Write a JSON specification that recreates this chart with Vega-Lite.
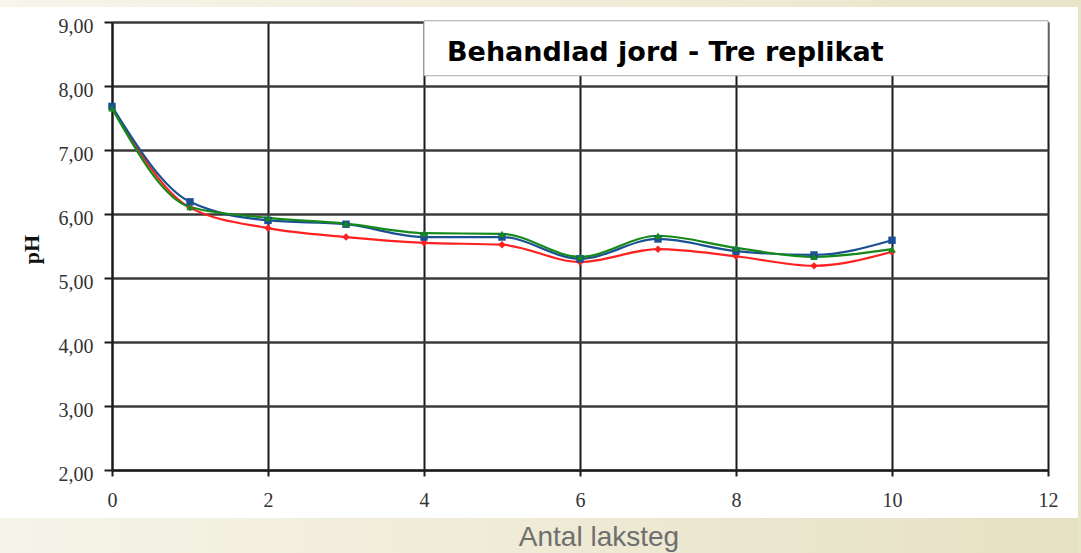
{
  "$schema": "https://vega.github.io/schema/vega-lite/v6.json",
  "width": 936,
  "height": 448,
  "autosize": {"type": "none"},
  "padding": {"left": 112, "top": 22, "right": 33, "bottom": 83},
  "background": "white",
  "config": {"view": {"stroke": null}},
  "title": {
    "text": "Antal laksteg",
    "orient": "bottom",
    "anchor": "middle",
    "frame": "group",
    "baseline": "alphabetic",
    "offset": -7,
    "dx": 19,
    "font": "Liberation Sans",
    "fontSize": 28,
    "fontWeight": "normal",
    "color": "#6f6f6f",
    "zindex": 1
  },
  "data": {
    "values": [
      {"step": 0, "series": "Replikat 1", "pH": 7.68},
      {"step": 1, "series": "Replikat 1", "pH": 6.10},
      {"step": 2, "series": "Replikat 1", "pH": 5.78},
      {"step": 3, "series": "Replikat 1", "pH": 5.64},
      {"step": 4, "series": "Replikat 1", "pH": 5.55},
      {"step": 5, "series": "Replikat 1", "pH": 5.52},
      {"step": 6, "series": "Replikat 1", "pH": 5.25},
      {"step": 7, "series": "Replikat 1", "pH": 5.45},
      {"step": 8, "series": "Replikat 1", "pH": 5.34},
      {"step": 9, "series": "Replikat 1", "pH": 5.19},
      {"step": 10, "series": "Replikat 1", "pH": 5.41},
      {"step": 0, "series": "Replikat 2", "pH": 7.68},
      {"step": 1, "series": "Replikat 2", "pH": 6.19},
      {"step": 2, "series": "Replikat 2", "pH": 5.90},
      {"step": 3, "series": "Replikat 2", "pH": 5.84},
      {"step": 4, "series": "Replikat 2", "pH": 5.64},
      {"step": 5, "series": "Replikat 2", "pH": 5.64},
      {"step": 6, "series": "Replikat 2", "pH": 5.30},
      {"step": 7, "series": "Replikat 2", "pH": 5.61},
      {"step": 8, "series": "Replikat 2", "pH": 5.42},
      {"step": 9, "series": "Replikat 2", "pH": 5.36},
      {"step": 10, "series": "Replikat 2", "pH": 5.59},
      {"step": 0, "series": "Replikat 3", "pH": 7.65},
      {"step": 1, "series": "Replikat 3", "pH": 6.11},
      {"step": 2, "series": "Replikat 3", "pH": 5.94},
      {"step": 3, "series": "Replikat 3", "pH": 5.85},
      {"step": 4, "series": "Replikat 3", "pH": 5.70},
      {"step": 5, "series": "Replikat 3", "pH": 5.69},
      {"step": 6, "series": "Replikat 3", "pH": 5.33},
      {"step": 7, "series": "Replikat 3", "pH": 5.66},
      {"step": 8, "series": "Replikat 3", "pH": 5.47},
      {"step": 9, "series": "Replikat 3", "pH": 5.33},
      {"step": 10, "series": "Replikat 3", "pH": 5.45}
    ]
  },
  "layer": [
    {
      "mark": {"type": "line", "interpolate": "monotone", "strokeWidth": 2.2},
      "encoding": {
        "x": {
          "field": "step", "type": "quantitative",
          "scale": {"domain": [0, 12], "nice": false, "zero": false},
          "axis": {
            "values": [0, 2, 4, 6, 8, 10, 12],
            "format": "d",
            "title": null,
            "grid": true, "gridColor": "#1a1a1a", "gridWidth": 2,
            "domainColor": "#1a1a1a", "domainWidth": 2,
            "tickColor": "#1a1a1a", "tickWidth": 2, "tickSize": 6,
            "labelFont": "Liberation Serif", "labelFontSize": 20, "labelColor": "#333333",
            "labelPadding": 14, "labelFlush": false, "labelOverlap": false
          }
        },
        "y": {
          "field": "pH", "type": "quantitative",
          "scale": {"domain": [2, 9], "nice": false, "zero": false},
          "axis": {
            "values": [2, 3, 4, 5, 6, 7, 8, 9],
            "labelExpr": "replace(format(datum.value, '.2f'), '.', ',')",
            "title": "pH",
            "titleFont": "Liberation Serif", "titleFontSize": 22, "titleFontWeight": "bold", "titleColor": "#111111",
            "titleX": -74, "titleY": 227, "titleAngle": 270, "titleAlign": "center", "titleBaseline": "alphabetic",
            "grid": true, "gridColor": "#3a3a3a", "gridWidth": 2.5,
            "domainColor": "#1a1a1a", "domainWidth": 2,
            "tickColor": "#1a1a1a", "tickWidth": 2, "tickSize": 8,
            "labelFont": "Liberation Serif", "labelFontSize": 20, "labelColor": "#333333",
            "labelPadding": 11, "labelOffset": 4, "labelFlush": false, "labelOverlap": false
          }
        },
        "color": {
          "field": "series", "type": "nominal",
          "scale": {"domain": ["Replikat 1", "Replikat 2", "Replikat 3"], "range": ["#ff2020", "#1b4f93", "#15891a"]},
          "legend": null
        }
      }
    },
    {
      "mark": {"type": "point", "filled": true, "size": 55, "opacity": 1},
      "encoding": {
        "x": {"field": "step", "type": "quantitative", "scale": {"domain": [0, 12], "nice": false, "zero": false}},
        "y": {"field": "pH", "type": "quantitative", "scale": {"domain": [2, 9], "nice": false, "zero": false}},
        "color": {
          "field": "series", "type": "nominal",
          "scale": {"domain": ["Replikat 1", "Replikat 2", "Replikat 3"], "range": ["#ff2020", "#1b4f93", "#15891a"]},
          "legend": null
        },
        "shape": {
          "field": "series", "type": "nominal",
          "scale": {"domain": ["Replikat 1", "Replikat 2", "Replikat 3"], "range": ["diamond", "square", "triangle-up"]},
          "legend": null
        }
      }
    },
    {
      "data": {"values": [{}]},
      "mark": {"type": "rect", "fill": {"gradient": "linear", "x1": 0, "y1": 0, "x2": 1, "y2": 0, "stops": [{"offset": 0, "color": "#f6f4e9"}, {"offset": 1, "color": "#e6e1c3"}]}},
      "encoding": {
        "x": {"datum": -1.436, "type": "quantitative", "scale": {"domain": [0, 12], "nice": false, "zero": false}},
        "x2": {"datum": 12.423},
        "y": {"datum": 1.25, "type": "quantitative", "scale": {"domain": [2, 9], "nice": false, "zero": false}},
        "y2": {"datum": 0.703}
      }
    },
    {
      "data": {"values": [{}]},
      "mark": {"type": "rect", "fill": {"gradient": "linear", "x1": 0, "y1": 0, "x2": 1, "y2": 0, "stops": [{"offset": 0, "color": "#f7f5ec"}, {"offset": 1, "color": "#e9e4c8"}]}},
      "encoding": {
        "x": {"datum": -1.436, "type": "quantitative", "scale": {"domain": [0, 12], "nice": false, "zero": false}},
        "x2": {"datum": 12.423},
        "y": {"datum": 9.344, "type": "quantitative", "scale": {"domain": [2, 9], "nice": false, "zero": false}},
        "y2": {"datum": 9.234}
      }
    },
    {
      "data": {"values": [{}]},
      "mark": {"type": "rect", "fill": "#e8e4c8"},
      "encoding": {
        "x": {"datum": 12.385, "type": "quantitative", "scale": {"domain": [0, 12], "nice": false, "zero": false}},
        "x2": {"datum": 12.423},
        "y": {"datum": 9.344, "type": "quantitative", "scale": {"domain": [2, 9], "nice": false, "zero": false}},
        "y2": {"datum": 0.703}
      }
    },
    {
      "data": {"values": [{}]},
      "mark": {"type": "rect", "fill": "white", "stroke": "#a8a8a8", "strokeWidth": 1},
      "encoding": {
        "x": {"datum": 4, "type": "quantitative", "scale": {"domain": [0, 12], "nice": false, "zero": false}},
        "x2": {"datum": 12},
        "y": {"datum": 9.02, "type": "quantitative", "scale": {"domain": [2, 9], "nice": false, "zero": false}},
        "y2": {"datum": 8.16}
      }
    },
    {
      "data": {"values": [{"label": "Behandlad jord - Tre replikat"}]},
      "mark": {"type": "text", "align": "left", "baseline": "alphabetic", "font": "DejaVu Sans", "fontSize": 27, "fontWeight": "bold", "color": "#000000"},
      "encoding": {
        "x": {"datum": 4.295, "type": "quantitative", "scale": {"domain": [0, 12], "nice": false, "zero": false}},
        "y": {"datum": 8.39, "type": "quantitative", "scale": {"domain": [2, 9], "nice": false, "zero": false}},
        "text": {"field": "label"}
      }
    }
  ]
}
